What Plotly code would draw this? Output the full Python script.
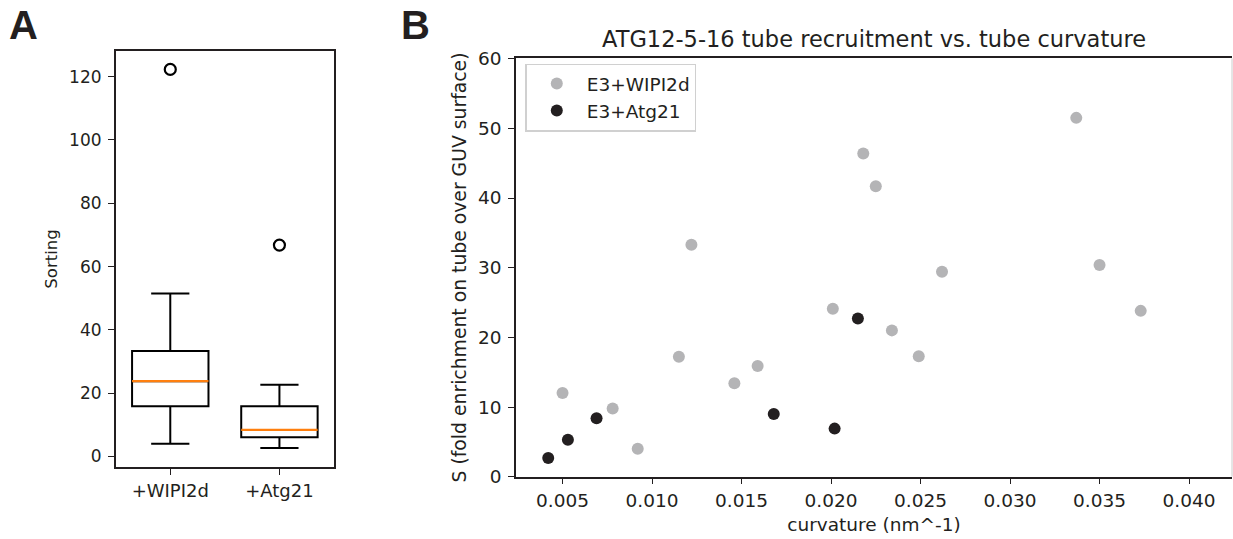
import numpy as np
import plotly.graph_objects as go

# panel B: tube curvature (nm^-1) vs sorting S
wipi_curv = [0.0050, 0.0078, 0.0092, 0.0115, 0.0122, 0.0146, 0.0159, 0.0201,
             0.0218, 0.0225, 0.0234, 0.0249, 0.0262, 0.0337, 0.0350, 0.0373]
wipi_sort = [12.0, 9.8, 4.0, 17.2, 33.3, 13.4, 15.9, 24.1,
             46.4, 41.7, 21.0, 17.3, 29.4, 51.5, 30.4, 23.8]
atg_curv = [0.0042, 0.0053, 0.0069, 0.0168, 0.0202, 0.0215]
atg_sort = [2.7, 5.3, 8.4, 9.0, 6.9, 22.7]

# panel A: same measurements plus one tube each that lies above the y range of B
wipi_extra = [122.3]
atg_extra = [66.8]
box_labels = ["+WIPI2d", "+Atg21"]

TXT = "#231f20"
FONT = "DejaVu Sans"
W, H = 1233, 539

fig = go.Figure()

# ---- panel A: box plot
box_sets = [wipi_sort + wipi_extra, atg_sort + atg_extra]
for i, vals in enumerate(box_sets):
    pos = i + 1
    fig.add_trace(go.Box(
        x=[pos] * len(vals), y=vals, xaxis="x", yaxis="y",
        boxpoints="outliers", pointpos=0, jitter=0,
        quartilemethod="inclusive", width=0.7, whiskerwidth=0.5,
        fillcolor="rgba(0,0,0,0)", line=dict(color="black", width=2),
        marker=dict(symbol="circle-open", size=11, color="black",
                    line=dict(width=2.2, color="black")),
        showlegend=False, hoverinfo="skip"))
    med = float(np.median(vals))
    fig.add_trace(go.Scatter(
        x=[pos - 0.35, pos + 0.35], y=[med, med], mode="lines",
        line=dict(color="#ff7f0e", width=2.2), xaxis="x", yaxis="y",
        showlegend=False, hoverinfo="skip"))

# ---- panel B: scatter
fig.add_trace(go.Scatter(
    x=wipi_curv, y=wipi_sort, mode="markers", name="E3+WIPI2d",
    marker=dict(color="#b4b4b6", size=12), xaxis="x2", yaxis="y2"))
fig.add_trace(go.Scatter(
    x=atg_curv, y=atg_sort, mode="markers", name="E3+Atg21",
    marker=dict(color="#231f20", size=12), xaxis="x2", yaxis="y2"))

ax_common = dict(showline=True, linecolor=TXT, linewidth=1.5, ticks="outside",
                 ticklen=6, tickwidth=1.4, tickcolor=TXT, showgrid=False,
                 zeroline=False, color=TXT, automargin=False)

fig.update_layout(
    width=W, height=H, margin=dict(l=0, r=0, t=0, b=0),
    paper_bgcolor="white", plot_bgcolor="white",
    font=dict(family=FONT, color=TXT),
    xaxis=dict(domain=[115.7 / W, 334 / W], range=[0.5, 2.5],
               tickvals=[1, 2], ticktext=box_labels, mirror=True,
               tickfont=dict(size=18), anchor="y", **ax_common),
    yaxis=dict(domain=[1 - 467.3 / H, 1 - 50.7 / H], range=[-3.4, 128.2],
               tickvals=[0, 20, 40, 60, 80, 100, 120], mirror=True,
               tickfont=dict(size=17), anchor="x", ticklabelstandoff=3,
               title=dict(text="Sorting", font=dict(size=16.5), standoff=7),
               **ax_common),
    xaxis2=dict(domain=[516 / W, 1232 / W], range=[0.0024, 0.0424],
                tickvals=[0.005, 0.010, 0.015, 0.020, 0.025, 0.030, 0.035, 0.040],
                tickformat=".3f", mirror=True, anchor="y2",
                tickfont=dict(size=18.5),
                title=dict(text="curvature (nm^-1)", font=dict(size=18.5), standoff=8),
                **ax_common),
    yaxis2=dict(domain=[1 - 476.7 / H, 1 - 58.3 / H], range=[0, 60.05],
                tickvals=[0, 10, 20, 30, 40, 50, 60], anchor="x2",
                tickfont=dict(size=18.5), ticklabelstandoff=3,
                title=dict(text="S (fold enrichment on tube over GUV surface)",
                           font=dict(size=18.8), standoff=6),
                **ax_common),
    legend=dict(x=525.3 / W, y=1 - 63.5 / H, xanchor="left", yanchor="top",
                bgcolor="white", bordercolor="#d0d0d0", borderwidth=1.5,
                itemwidth=50, font=dict(size=18.5, color=TXT)),
    shapes=[dict(type="line", xref="x2 domain", yref="y2 domain",
                 x0=1, x1=1, y0=0, y1=1, line=dict(color="#cccccc", width=1))],
    annotations=[
        dict(text="<b>A</b>", x=7 / W, y=1 - 1 / H, xref="paper", yref="paper",
             xanchor="left", yanchor="top", showarrow=False,
             font=dict(family="Liberation Sans", size=40, color=TXT)),
        dict(text="<b>B</b>", x=399 / W, y=1 - 1 / H, xref="paper", yref="paper",
             xanchor="left", yanchor="top", showarrow=False,
             font=dict(family="Liberation Sans", size=40, color=TXT)),
        dict(text="ATG12-5-16 tube recruitment vs. tube curvature",
             x=0.5, y=1, xref="x2 domain", yref="y2 domain",
             xanchor="center", yanchor="bottom", yshift=4, showarrow=False,
             font=dict(family=FONT, size=22.5, color=TXT)),
    ],
)

# body margin would push the fixed-size plot past the window edge
fig.write_html("out.html", config={"displayModeBar": False},
               post_script="document.body.style.margin='0';")
